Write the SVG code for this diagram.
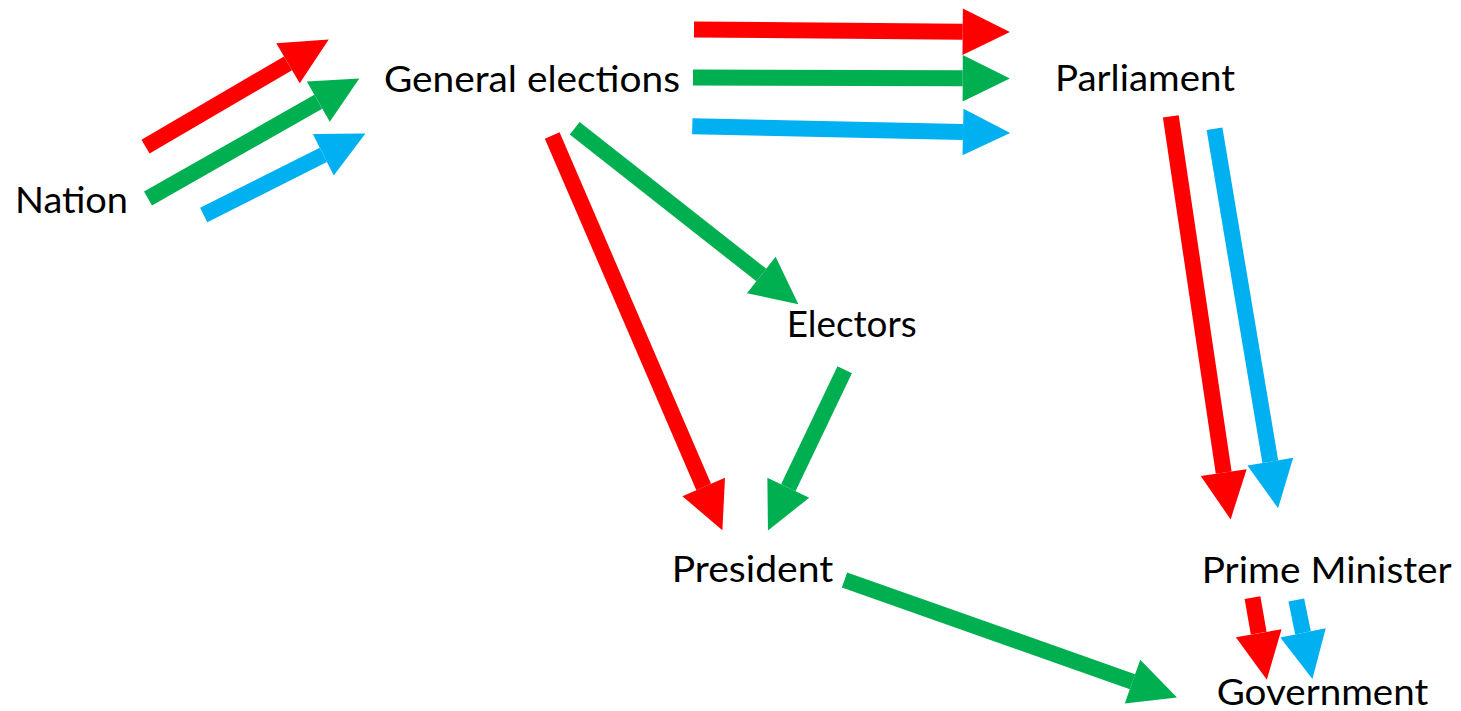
<svg xmlns="http://www.w3.org/2000/svg" width="1461" height="711" viewBox="0 0 1461 711">
<style>
text{font-family:Lato,"Open Sans","Liberation Sans",sans-serif;font-size:36px;fill:#000}
.a{fill:none;stroke-width:16;stroke-linecap:butt}
.r{stroke:#FF0000}.g{stroke:#00B050}.b{stroke:#00B0F0}
.r{marker-end:url(#mr)}.g{marker-end:url(#mg)}.b{marker-end:url(#mb)}
</style>
<defs>
<marker id="mr" viewBox="0 -1.5 3 3" markerWidth="3" markerHeight="3" refX="0" refY="0" orient="auto" markerUnits="strokeWidth" overflow="visible"><path d="M0,-1.45 L2.95,0 L0,1.45 z" fill="#FF0000"/></marker>
<marker id="mg" viewBox="0 -1.5 3 3" markerWidth="3" markerHeight="3" refX="0" refY="0" orient="auto" markerUnits="strokeWidth" overflow="visible"><path d="M0,-1.45 L2.95,0 L0,1.45 z" fill="#00B050"/></marker>
<marker id="mb" viewBox="0 -1.5 3 3" markerWidth="3" markerHeight="3" refX="0" refY="0" orient="auto" markerUnits="strokeWidth" overflow="visible"><path d="M0,-1.45 L2.95,0 L0,1.45 z" fill="#00B0F0"/></marker>
</defs>
<rect width="1461" height="711" fill="#fff"/>
<g id="connectors">
<line class="a r" x1="145.5" y1="146.7" x2="288" y2="63.3"/>
<line class="a g" x1="148" y1="198.5" x2="318.3" y2="101.7"/>
<line class="a b" x1="203.7" y1="215" x2="323.3" y2="154.8"/>
<line class="a r" x1="694" y1="29.5" x2="962.7" y2="31.7"/>
<line class="a g" x1="693" y1="77.5" x2="962.7" y2="78.3"/>
<line class="a b" x1="692.3" y1="126.2" x2="963" y2="132"/>
<line class="a r" x1="552.2" y1="135.5" x2="703.7" y2="487"/>
<line class="a g" x1="574.7" y1="128.3" x2="761.3" y2="275"/>
<line class="a g" x1="844.7" y1="369.7" x2="788.3" y2="487.8"/>
<line class="a r" x1="1170.8" y1="116.3" x2="1223.7" y2="472.7"/>
<line class="a b" x1="1214.5" y1="128.7" x2="1270.3" y2="461.7"/>
<line class="a r" x1="1252.5" y1="597.7" x2="1258.7" y2="633.2"/>
<line class="a b" x1="1296.3" y1="600" x2="1303" y2="632.8"/>
<line class="a g" x1="844.5" y1="580" x2="1132.5" y2="681.7"/>
</g>
<g id="nation"><text x="15" y="213.3" textLength="113" lengthAdjust="spacingAndGlyphs">Nation</text></g>
<g id="general-elections"><text x="384" y="92.3" textLength="296" lengthAdjust="spacingAndGlyphs">General elections</text></g>
<g id="parliament"><text x="1055" y="91" textLength="180" lengthAdjust="spacingAndGlyphs">Parliament</text></g>
<g id="electors"><text x="786.7" y="336.7" textLength="130" lengthAdjust="spacingAndGlyphs">Electors</text></g>
<g id="president"><text x="671.7" y="582.3" textLength="161.6" lengthAdjust="spacingAndGlyphs">President</text></g>
<g id="prime-minister"><text x="1201.7" y="583.3" textLength="250" lengthAdjust="spacingAndGlyphs">Prime Minister</text></g>
<g id="government"><text x="1216.7" y="705" font-size="35" textLength="211.6" lengthAdjust="spacingAndGlyphs">Government</text></g>
</svg>
